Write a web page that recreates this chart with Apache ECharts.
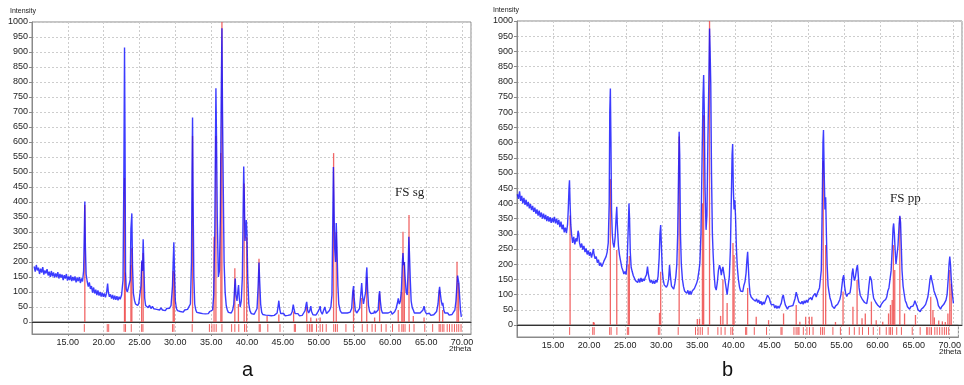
<!DOCTYPE html>
<html><head><meta charset="utf-8">
<script src="https://cdn.jsdelivr.net/npm/echarts@6/dist/echarts.min.js"></script>
<style>html,body{margin:0;padding:0;background:#fff}#c{width:964px;height:385px}</style>
</head><body><div id="c"></div>
<script>
// ---- Panel a (FS sg): measured trace [2theta, intensity]
const sgTrace = [[10.3,185],[10.45,168],[10.6,190],[10.75,172],[10.9,181],[11.05,160],[11.2,178],[11.35,165],[11.5,183],[11.65,158],[11.8,172],[11.95,162],[12.1,176],[12.25,155],[12.4,168],[12.55,150],[12.7,170],[12.85,152],[13.0,165],[13.15,148],[13.3,162],[13.45,150],[13.6,166],[13.75,145],[13.9,160],[14.05,148],[14.2,158],[14.35,140],[14.5,156],[14.65,145],[14.8,160],[14.95,138],[15.1,152],[15.25,140],[15.4,155],[15.55,136],[15.7,150],[15.85,138],[16.0,152],[16.15,132],[16.3,148],[16.45,136],[16.6,150],[16.75,130],[16.9,145],[17.05,135],[17.2,170],[17.3,300],[17.37,402],[17.45,250],[17.55,160],[17.7,135],[17.85,118],[18.0,132],[18.15,110],[18.3,120],[18.45,98],[18.6,115],[18.75,95],[18.9,108],[19.05,90],[19.2,105],[19.35,88],[19.5,100],[19.65,85],[19.8,98],[19.95,84],[20.1,95],[20.25,82],[20.4,96],[20.55,128],[20.65,100],[20.8,84],[20.95,92],[21.1,78],[21.25,90],[21.4,75],[21.55,88],[21.7,74],[21.85,86],[22.0,72],[22.15,84],[22.3,76],[22.5,90],[22.7,140],[22.82,500],[22.91,915],[22.98,600],[23.05,165],[23.15,110],[23.3,100],[23.5,95],[23.7,140],[23.8,310],[23.93,362],[24.02,190],[24.15,95],[24.3,72],[24.45,60],[24.6,66],[24.75,55],[24.9,62],[25.05,58],[25.2,120],[25.32,205],[25.42,170],[25.51,276],[25.6,200],[25.72,80],[25.85,55],[26.0,60],[26.2,48],[26.4,56],[26.6,45],[26.8,52],[27.0,44],[27.2,50],[27.4,42],[27.6,48],[27.8,40],[28.0,47],[28.2,40],[28.4,46],[28.6,38],[28.8,45],[29.0,40],[29.2,46],[29.4,55],[29.6,120],[29.7,200],[29.79,266],[29.88,170],[30.0,70],[30.15,45],[30.3,38],[30.5,44],[30.7,35],[30.9,40],[31.1,33],[31.3,40],[31.5,34],[31.7,42],[31.9,38],[32.1,60],[32.25,200],[32.33,500],[32.4,682],[32.48,400],[32.58,150],[32.7,60],[32.85,40],[33.0,32],[33.2,38],[33.4,30],[33.6,36],[33.8,28],[34.0,34],[34.2,27],[34.4,33],[34.6,28],[34.8,35],[35.0,30],[35.2,40],[35.35,90],[35.5,300],[35.6,600],[35.66,779],[35.74,620],[35.85,350],[36.0,150],[36.15,170],[36.28,350],[36.35,595],[36.42,800],[36.5,979],[36.58,700],[36.68,460],[36.8,200],[36.95,97],[37.1,55],[37.25,40],[37.4,32],[37.6,38],[37.8,30],[38.0,40],[38.15,60],[38.28,120],[38.36,145],[38.45,90],[38.6,70],[38.75,110],[38.82,123],[38.92,80],[39.05,50],[39.2,70],[39.35,150],[39.45,350],[39.54,518],[39.62,420],[39.72,270],[39.82,300],[39.9,340],[39.98,300],[40.1,150],[40.25,60],[40.4,38],[40.6,28],[40.8,33],[41.0,26],[41.2,32],[41.4,45],[41.55,120],[41.67,198],[41.76,140],[41.9,60],[42.05,32],[42.2,25],[42.4,30],[42.6,23],[42.8,29],[43.0,22],[43.2,28],[43.4,21],[43.6,27],[43.8,22],[44.0,28],[44.2,30],[44.35,55],[44.44,71],[44.55,45],[44.7,28],[44.9,23],[45.1,29],[45.3,21],[45.5,27],[45.7,22],[45.9,28],[46.1,24],[46.3,34],[46.45,58],[46.55,45],[46.7,28],[46.9,22],[47.1,28],[47.3,21],[47.5,27],[47.7,22],[47.9,30],[48.1,38],[48.25,60],[48.33,67],[48.45,40],[48.6,30],[48.75,38],[48.9,53],[49.0,35],[49.2,24],[49.4,30],[49.6,23],[49.8,30],[50.0,28],[50.12,45],[50.2,53],[50.3,35],[50.5,26],[50.7,32],[50.85,50],[50.95,40],[51.1,28],[51.3,33],[51.5,38],[51.7,50],[51.85,90],[51.95,300],[52.05,517],[52.12,420],[52.22,250],[52.35,200],[52.45,330],[52.55,250],[52.68,120],[52.8,60],[53.0,38],[53.2,30],[53.4,25],[53.6,30],[53.8,24],[54.0,30],[54.2,26],[54.4,33],[54.6,45],[54.75,100],[54.86,120],[54.95,80],[55.1,40],[55.3,30],[55.5,36],[55.7,45],[55.9,100],[56.0,130],[56.1,90],[56.25,60],[56.4,55],[56.55,100],[56.65,160],[56.72,182],[56.82,110],[56.95,55],[57.1,35],[57.3,28],[57.5,33],[57.7,30],[57.8,38],[57.9,30],[58.1,28],[58.3,40],[58.42,90],[58.5,103],[58.6,70],[58.75,40],[58.9,30],[59.1,25],[59.3,30],[59.5,24],[59.7,30],[59.9,26],[60.1,35],[60.25,26],[60.4,30],[60.6,34],[60.8,45],[61.0,65],[61.1,79],[61.25,60],[61.4,70],[61.55,110],[61.68,200],[61.76,230],[61.85,190],[61.95,200],[62.05,150],[62.2,100],[62.35,90],[62.48,180],[62.58,284],[62.66,230],[62.78,140],[62.9,70],[63.05,48],[63.2,40],[63.35,30],[63.55,26],[63.75,30],[63.95,25],[64.15,30],[64.35,28],[64.55,40],[64.7,53],[64.85,35],[65.05,27],[65.25,23],[65.45,29],[65.65,22],[65.85,28],[66.05,24],[66.25,30],[66.45,35],[66.65,60],[66.78,100],[66.87,117],[66.97,95],[67.1,70],[67.25,55],[67.32,64],[67.45,40],[67.6,30],[67.8,25],[68.0,30],[68.2,23],[68.4,29],[68.6,25],[68.8,33],[69.0,40],[69.15,70],[69.28,120],[69.38,155],[69.45,160],[69.55,130],[69.65,90],[69.78,40],[69.9,17]];

// Panel a reference sticks [2theta, height]
const sgSticks = [[17.37,390],[22.91,480],[23.0,165],[23.8,190],[23.93,246],[25.3,200],[25.51,230],[29.7,170],[29.85,165],[32.4,620],[35.4,284],[35.66,620],[36.35,563],[36.5,1000],[38.3,179],[38.8,60],[39.6,462],[39.95,284],[41.67,211],[42.8,20],[44.44,25],[46.5,35],[48.33,50],[48.9,15],[49.7,12],[50.2,15],[52.08,563],[52.45,300],[54.86,107],[56.0,80],[56.7,150],[57.8,15],[58.5,95],[61.1,40],[61.6,100],[61.76,301],[61.95,200],[62.6,357],[63.2,20],[64.7,15],[66.85,107],[67.3,40],[69.3,201],[69.5,130]];

// ---- Panel b (FS pp)
const ppTrace = [[10.05,430],[10.2,415],[10.35,440],[10.5,408],[10.65,425],[10.8,400],[10.95,418],[11.1,395],[11.25,412],[11.4,390],[11.55,405],[11.7,384],[11.85,398],[12.0,378],[12.15,392],[12.3,372],[12.45,386],[12.6,366],[12.75,380],[12.9,360],[13.05,376],[13.2,355],[13.35,370],[13.5,350],[13.65,366],[13.8,348],[13.95,362],[14.1,342],[14.25,358],[14.4,340],[14.55,355],[14.7,336],[14.85,352],[15.0,338],[15.15,356],[15.3,334],[15.45,350],[15.6,330],[15.75,346],[15.9,322],[16.05,340],[16.2,315],[16.35,330],[16.5,305],[16.65,320],[16.8,302],[16.95,330],[17.05,380],[17.15,450],[17.22,476],[17.3,400],[17.4,330],[17.5,300],[17.65,270],[17.8,290],[17.95,265],[18.1,285],[18.25,275],[18.4,310],[18.5,300],[18.6,270],[18.75,255],[18.9,268],[19.05,248],[19.2,260],[19.35,240],[19.5,252],[19.65,232],[19.8,245],[19.95,228],[20.1,240],[20.25,222],[20.4,238],[20.5,250],[20.6,232],[20.75,218],[20.9,225],[21.05,205],[21.2,215],[21.35,195],[21.5,205],[21.65,192],[21.8,200],[21.95,210],[22.1,205],[22.25,225],[22.4,240],[22.55,270],[22.68,400],[22.76,700],[22.84,778],[22.92,600],[23.0,380],[23.1,300],[23.2,270],[23.35,255],[23.5,290],[23.62,350],[23.72,389],[23.8,330],[23.95,260],[24.1,230],[24.25,210],[24.4,190],[24.55,180],[24.7,168],[24.85,176],[25.0,166],[25.15,210],[25.3,320],[25.4,400],[25.48,350],[25.58,240],[25.7,190],[25.85,175],[26.0,162],[26.15,158],[26.3,146],[26.45,150],[26.6,140],[26.75,152],[26.9,140],[27.05,155],[27.2,142],[27.35,152],[27.5,145],[27.65,158],[27.8,165],[27.95,192],[28.05,170],[28.2,150],[28.35,140],[28.5,148],[28.65,136],[28.8,146],[28.95,136],[29.1,148],[29.25,140],[29.4,160],[29.55,220],[29.66,300],[29.76,329],[29.86,260],[29.98,180],[30.1,150],[30.25,132],[30.4,136],[30.55,124],[30.7,132],[30.85,150],[30.98,197],[31.1,160],[31.25,128],[31.4,124],[31.55,118],[31.7,135],[31.85,160],[31.98,200],[32.1,300],[32.22,500],[32.3,636],[32.38,560],[32.48,300],[32.6,200],[32.75,150],[32.9,126],[33.05,112],[33.2,118],[33.35,104],[33.5,114],[33.65,100],[33.8,112],[33.95,100],[34.1,112],[34.25,106],[34.4,120],[34.55,124],[34.7,137],[34.85,150],[35.0,175],[35.15,203],[35.3,300],[35.45,543],[35.58,750],[35.67,822],[35.76,700],[35.86,450],[36.0,313],[36.12,360],[36.25,600],[36.38,796],[36.48,975],[36.56,900],[36.65,790],[36.75,500],[36.87,300],[36.97,236],[37.1,170],[37.25,125],[37.4,115],[37.55,140],[37.7,180],[37.85,197],[37.98,185],[38.1,164],[38.2,180],[38.32,191],[38.45,170],[38.6,148],[38.75,150],[38.9,100],[39.05,130],[39.2,159],[39.35,250],[39.48,420],[39.58,560],[39.66,595],[39.75,450],[39.85,380],[39.95,411],[40.05,360],[40.18,250],[40.3,190],[40.45,150],[40.6,125],[40.75,112],[40.9,118],[41.05,110],[41.2,130],[41.35,142],[41.5,170],[41.62,214],[41.72,241],[41.8,200],[41.92,140],[42.05,104],[42.2,92],[42.35,96],[42.5,84],[42.65,90],[42.8,78],[42.95,86],[43.1,74],[43.25,82],[43.4,70],[43.55,78],[43.7,66],[43.85,76],[44.0,68],[44.15,78],[44.3,82],[44.45,98],[44.58,104],[44.7,88],[44.85,74],[45.0,66],[45.15,62],[45.3,68],[45.45,56],[45.6,64],[45.75,54],[45.9,62],[46.05,55],[46.2,64],[46.35,72],[46.5,92],[46.62,99],[46.75,82],[46.9,66],[47.05,60],[47.2,52],[47.35,60],[47.5,54],[47.65,62],[47.8,56],[47.95,64],[48.1,68],[48.25,88],[48.4,108],[48.5,110],[48.62,88],[48.75,76],[48.9,80],[49.05,70],[49.2,78],[49.35,68],[49.5,80],[49.65,72],[49.8,82],[49.95,74],[50.1,84],[50.25,78],[50.4,90],[50.55,82],[50.7,94],[50.85,100],[51.0,104],[51.15,92],[51.3,104],[51.45,108],[51.6,122],[51.72,126],[51.85,180],[51.98,400],[52.08,600],[52.15,641],[52.25,500],[52.35,380],[52.45,420],[52.55,300],[52.65,200],[52.78,130],[52.9,110],[53.05,88],[53.2,78],[53.35,62],[53.5,60],[53.65,54],[53.8,62],[53.95,56],[54.1,68],[54.25,71],[54.4,84],[54.55,100],[54.7,132],[54.82,155],[54.93,164],[55.05,128],[55.2,104],[55.35,94],[55.5,102],[55.65,96],[55.8,106],[55.95,130],[56.08,170],[56.2,186],[56.3,160],[56.42,146],[56.55,160],[56.7,185],[56.82,197],[56.92,168],[57.05,122],[57.2,98],[57.35,94],[57.5,84],[57.65,88],[57.8,74],[57.95,80],[58.1,70],[58.25,92],[58.4,130],[58.55,160],[58.65,165],[58.75,148],[58.9,112],[59.05,88],[59.2,84],[59.35,74],[59.5,76],[59.65,64],[59.8,66],[59.95,58],[60.1,68],[60.25,64],[60.4,78],[60.55,72],[60.7,84],[60.85,92],[61.0,112],[61.15,122],[61.3,150],[61.45,178],[61.6,250],[61.72,320],[61.8,334],[61.9,300],[62.0,248],[62.12,200],[62.25,228],[62.4,262],[62.55,330],[62.65,359],[62.75,338],[62.85,262],[62.95,180],[63.1,128],[63.25,102],[63.4,80],[63.55,72],[63.7,60],[63.85,58],[64.0,52],[64.15,60],[64.3,54],[64.45,62],[64.6,70],[64.72,80],[64.85,74],[65.0,62],[65.15,50],[65.3,54],[65.45,44],[65.6,52],[65.75,48],[65.9,58],[66.05,56],[66.2,68],[66.35,72],[66.5,92],[66.65,118],[66.8,150],[66.92,164],[67.05,148],[67.2,132],[67.35,112],[67.5,106],[67.65,92],[67.8,82],[67.95,64],[68.1,60],[68.25,52],[68.4,60],[68.55,58],[68.7,68],[68.85,66],[69.0,82],[69.15,100],[69.3,150],[69.42,200],[69.52,225],[69.62,198],[69.72,152],[69.82,118],[69.92,92],[70.02,71]];

const ppSticks = [[17.3,360],[20.5,10],[20.62,8],[22.84,480],[23.72,247],[25.3,200],[25.45,227],[29.6,40],[29.76,175],[32.3,620],[34.8,20],[35.1,20],[35.5,400],[35.67,690],[36.48,1000],[38.0,30],[38.32,150],[38.9,72],[39.7,270],[39.85,230],[41.72,122],[42.9,27],[44.6,16],[46.66,38],[48.4,66],[48.9,11],[49.7,27],[50.2,27],[50.55,27],[52.12,540],[52.45,263],[53.8,10],[54.84,110],[56.2,60],[56.77,148],[57.45,22],[57.9,38],[58.74,77],[59.4,16],[60.3,11],[61.1,38],[61.36,66],[61.6,82],[61.76,263],[61.95,181],[62.65,356],[63.3,38],[64.8,33],[66.9,93],[67.2,49],[67.4,25],[68.0,15],[68.5,12],[68.9,10],[69.26,38],[69.52,181],[69.72,136]];

// Reference pattern positions (marker strip below zero)
const refPositions = [17.3,20.5,20.7,22.85,23.05,23.85,25.3,25.48,29.6,29.8,32.35,34.75,35.1,35.4,35.7,36.5,37.85,38.3,38.85,39.65,39.9,41.7,41.85,42.9,44.6,46.6,46.75,48.4,48.7,48.95,49.1,49.7,50.2,50.55,51.05,52.1,52.35,52.6,53.8,54.84,56.08,56.77,57.45,57.9,58.74,59.4,60.3,61.2,61.6,61.8,62.05,62.65,63.3,64.8,65.9,66.8,66.96,67.24,67.47,67.93,68.25,68.6,68.94,69.26,69.54,69.86];

const panelLabels = ['a','b'];
const sampleNames = ['FS sg','FS pp'];

const BLUE = '#0b0bff', RED = '#ee4b4b', GRID = '#cdcdcd', AXIS = '#8a8a8a';
const FONT = 'Liberation Sans, Arial, sans-serif';

function stickRender(params, api) {
  const x = api.value(0), h = api.value(1);
  const p0 = api.coord([x, 0]), p1 = api.coord([x, h]);
  return {type:'line', shape:{x1:p0[0], y1:p0[1], x2:p1[0], y2:p1[1]},
          style:{stroke:RED, lineWidth:1.3, opacity:0.85}};
}
function stripRender(params, api) {
  const x = api.value(0);
  const p0 = api.coord([x, -7]), p1 = api.coord([x, -33]);
  return {type:'line', shape:{x1:p0[0], y1:p0[1], x2:p1[0], y2:p1[1]},
          style:{stroke:RED, lineWidth:1, opacity:0.9}};
}

const panels = [
  {left:32, width:439, top:22, h:300, xmax:71.25, trace:sgTrace, sticks:sgSticks},
  {left:517, width:445, top:21, h:304, xmax:71.2, trace:ppTrace, sticks:ppSticks}
];

const grid = [], xAxis = [], yAxis = [], series = [];
panels.forEach((p, i) => {
  const gm = grid.length;
  grid.push({left:p.left, top:p.top, width:p.width, height:p.h, show:true, borderColor:AXIS, borderWidth:1, containLabel:false});
  grid.push({left:p.left, top:p.top + p.h, width:p.width, height:12, show:true, borderColor:AXIS, borderWidth:1, containLabel:false});
  const split = {show:true, lineStyle:{color:GRID, type:[2,2], width:1}};
  xAxis.push({type:'value', gridIndex:gm, min:10, max:p.xmax, interval:5,
    axisLine:{show:true, onZero:false, lineStyle:{color:'#333', width:1}},
    axisTick:{show:false}, axisLabel:{show:false}, splitLine:split});
  xAxis.push({type:'value', gridIndex:gm+1, min:10, max:p.xmax, interval:5,
    axisLine:{show:true, onZero:false, lineStyle:{color:AXIS}},
    axisTick:{show:true, length:2, lineStyle:{color:AXIS}},
    axisLabel:{show:true, showMinLabel:false, showMaxLabel:false, fontSize:9, fontFamily:FONT, color:'#222', margin:4,
      formatter: v => (v < 12 || v > 70.5) ? '' : v.toFixed(2)},
    splitLine:split});
  yAxis.push({type:'value', gridIndex:gm, min:0, max:1000, interval:50,
    axisLine:{show:true, lineStyle:{color:AXIS}},
    axisTick:{show:true, length:3, lineStyle:{color:AXIS}},
    axisLabel:{fontSize:9, fontFamily:FONT, color:'#222', margin:4, formatter: v => String(v)},
    splitLine:split});
  yAxis.push({type:'value', gridIndex:gm+1, min:-40, max:0,
    axisLine:{show:true, lineStyle:{color:AXIS}}, axisTick:{show:false},
    axisLabel:{show:false}, splitLine:{show:false}});

  series.push({type:'custom', xAxisIndex:gm, yAxisIndex:gm, renderItem:stickRender,
    data:p.sticks, encode:{x:0, y:1}, z:2, silent:true, animation:false, clip:true});
  series.push({type:'line', xAxisIndex:gm, yAxisIndex:gm, data:p.trace, showSymbol:false,
    lineStyle:{color:BLUE, width:1.4, opacity:0.8}, z:3, silent:true, animation:false, clip:true});
  series.push({type:'custom', xAxisIndex:gm+1, yAxisIndex:gm+1, renderItem:stripRender,
    data:refPositions.map(v => [v, 0]), encode:{x:0, y:1}, z:2, silent:true, animation:false});
});

const graphic = [
  {type:'text', left:10, top:8, style:{text:'Intensity', font:'7px '+FONT, fill:'#222'}},
  {type:'text', left:493, top:7, style:{text:'Intensity', font:'7px '+FONT, fill:'#222'}},
  {type:'text', left:449, top:345, style:{text:'2theta', font:'8px '+FONT, fill:'#222'}},
  {type:'text', left:939, top:348, style:{text:'2theta', font:'8px '+FONT, fill:'#222'}},
  {type:'text', left:242, top:360, style:{text:panelLabels[0], font:'20px '+FONT, fill:'#111'}},
  {type:'text', left:722, top:360, style:{text:panelLabels[1], font:'20px '+FONT, fill:'#111'}},
  {type:'text', left:395, top:186, style:{text:sampleNames[0], font:'13px Liberation Serif, serif', fill:'#222'}},
  {type:'text', left:890, top:192, style:{text:sampleNames[1], font:'13px Liberation Serif, serif', fill:'#222'}}
];

const chart = echarts.init(document.getElementById('c'));
chart.setOption({animation:false, grid, xAxis, yAxis, series, graphic});
</script>
</body></html>
